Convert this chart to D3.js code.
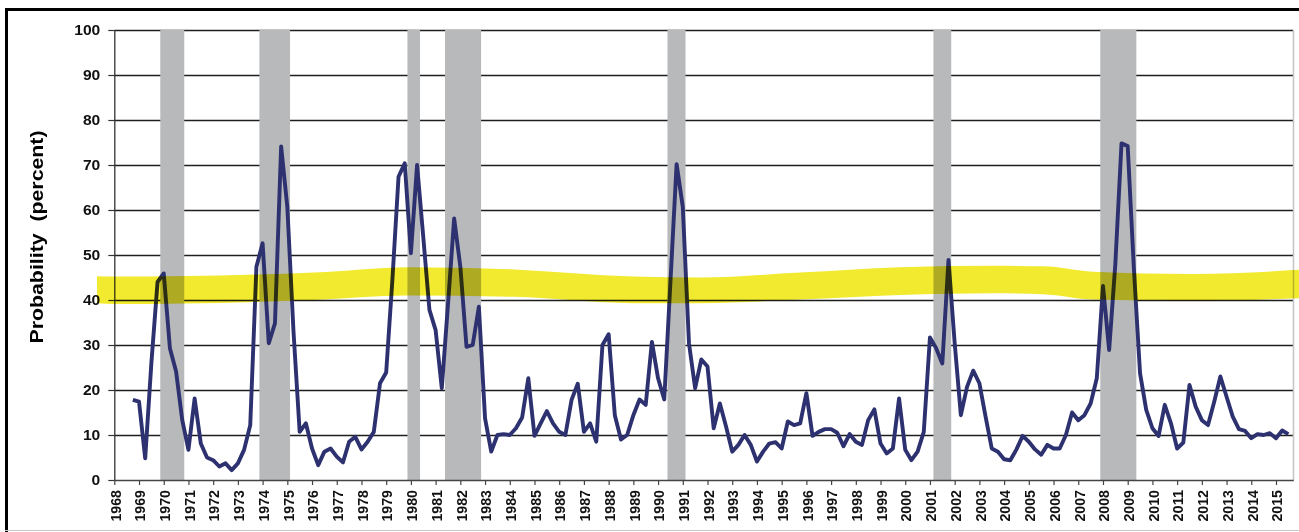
<!DOCTYPE html>
<html><head><meta charset="utf-8">
<script src="https://cdn.jsdelivr.net/npm/d3@7/dist/d3.min.js"></script>
<style>
body{margin:0;background:#fff;}
svg{display:block;font-family:"Liberation Sans",Arial,sans-serif;}
</style>
</head><body>
<svg id="chart" width="1299" height="532"></svg>
<script>
// ---- data ----
const firstQuarterYear = 1968.75; // first observation (1968 Q4), quarterly spacing
const probability = [
  17.8, 17.4, 4.8, 26.0, 44.0, 45.9, 29.3, 24.1, 13.3, 6.7,
  18.1, 8.1, 5.0, 4.4, 3.0, 3.7, 2.2, 3.7, 6.7, 12.2,
  47.4, 52.6, 30.4, 34.8, 74.1, 60.7, 33.0, 10.7, 12.6, 7.0,
  3.3, 6.3, 7.0, 5.2, 3.9, 8.5, 9.6, 6.8, 8.5, 10.7,
  21.5, 23.9, 44.4, 67.4, 70.4, 50.4, 70.0, 54.0, 37.8, 33.3,
  20.4, 39.0, 58.1, 47.4, 29.6, 30.0, 38.5, 13.7, 6.3, 10.0,
  10.2, 10.0, 11.5, 13.9, 22.6, 9.8, 12.6, 15.3, 12.6, 10.7,
  10.0, 17.8, 21.4, 10.7, 12.6, 8.5, 30.0, 32.4, 14.4, 9.0,
  10.0, 14.4, 17.9, 16.7, 30.7, 22.6, 17.9, 44.0, 70.2, 60.7,
  30.4, 20.4, 26.8, 25.2, 11.5, 17.0, 11.9, 6.3, 7.8, 10.0,
  7.8, 4.1, 6.3, 8.1, 8.4, 7.0, 13.0, 12.2, 12.6, 19.3,
  9.8, 10.7, 11.3, 11.3, 10.5, 7.5, 10.2, 8.5, 7.8, 13.3,
  15.7, 8.1, 5.9, 7.0, 18.1, 6.7, 4.4, 6.3, 10.7, 31.7,
  29.3, 25.9, 48.9, 30.4, 14.4, 20.7, 24.3, 21.5, 14.1, 7.0,
  6.3, 4.6, 4.4, 6.8, 9.8, 8.5, 6.8, 5.6, 7.8, 7.0,
  7.0, 10.0, 15.0, 13.3, 14.4, 17.0, 22.6, 43.1, 28.9, 48.0,
  74.8, 74.2, 47.0, 23.7, 15.6, 11.5, 9.8, 16.7, 12.6, 7.0,
  8.3, 21.1, 16.3, 13.3, 12.2, 17.4, 23.0, 18.5, 14.1, 11.3,
  10.9, 9.3, 10.2, 10.0, 10.4, 9.3, 11.0, 10.2
];
const recessionStart = [1969.86, 1973.87, 1979.86, 1981.38, 1990.38, 2001.14, 2007.89];
const recessionEnd   = [1970.83, 1975.11, 1980.37, 1982.84, 1991.11, 2001.86, 2009.35];
const yearTicks = [1968,1969,1970,1971,1972,1973,1974,1975,1976,1977,1978,1979,1980,1981,1982,1983,
  1984,1985,1986,1987,1988,1989,1990,1991,1992,1993,1994,1995,1996,1997,1998,1999,2000,2001,2002,
  2003,2004,2005,2006,2007,2008,2009,2010,2011,2012,2013,2014,2015];
const percentTicks = [0,10,20,30,40,50,60,70,80,90,100];
// hand-drawn highlighter band (years, top %, bottom %)
const bandYears  = [1967.30, 1968.00, 1976.09, 1979.85, 1984.18, 1988.99, 1991.70, 1995.75, 1999.79, 2003.56, 2005.58, 2007.60, 2011.65, 2015.94];
const bandTop    = [45.3, 45.2, 46.1, 47.3, 46.8, 45.2, 45.0, 46.1, 47.3, 47.6, 47.5, 46.3, 45.8, 46.7];
const bandBottom = [39.3, 39.1, 40.0, 41.0, 40.7, 39.3, 39.3, 40.1, 41.1, 41.5, 41.3, 40.1, 39.8, 40.4];
const yTitle = "Probability  (percent)";

// ---- chart ----
const svg = d3.select("#chart");
const x = d3.scaleLinear().domain([1968, 2015.7]).range([114.3, 1293.3]);
const y = d3.scaleLinear().domain([0, 100]).range([480, 30]);

const series = probability.map((v, i) => ({t: firstQuarterYear + i * 0.25, v}));

svg.append("rect").attr("width", 1299).attr("height", 532).attr("fill", "#fff");

// outer frame
svg.append("line").attr("x1", 5).attr("x2", 1299).attr("y1", 9.5).attr("y2", 9.5)
  .attr("stroke", "#000").attr("stroke-width", 3);
svg.append("line").attr("x1", 6.5).attr("x2", 6.5).attr("y1", 8).attr("y2", 532)
  .attr("stroke", "#000").attr("stroke-width", 3);
svg.append("line").attr("x1", 5).attr("x2", 1299).attr("y1", 530.5).attr("y2", 530.5)
  .attr("stroke", "#c8c8c8").attr("stroke-width", 1);

// gridlines
svg.append("g").selectAll("line").data(percentTicks.filter(d => d > 0)).join("line")
  .attr("x1", x.range()[0]).attr("x2", x.range()[1])
  .attr("y1", d => Math.round(y(d)) + 0.5).attr("y2", d => Math.round(y(d)) + 0.5)
  .attr("stroke", "#1e1e1e").attr("stroke-width", 1.3);

// right edge of plot area
svg.append("line").attr("x1", 1293.5).attr("x2", 1293.5).attr("y1", 30).attr("y2", 480)
  .attr("stroke", "#c4c4c4").attr("stroke-width", 1.5);

// recession shading
svg.append("g").selectAll("rect").data(recessionStart.map((s, i) => [s, recessionEnd[i]])).join("rect")
  .attr("x", d => x(d[0])).attr("width", d => x(d[1]) - x(d[0]))
  .attr("y", y(100)).attr("height", y(0) - y(100))
  .attr("fill", "#b8b9bb");

// x axis
const xAxis = svg.append("g").attr("transform", `translate(0,${y(0)})`)
  .call(d3.axisBottom(x).tickValues(yearTicks).tickFormat(d3.format("d")).tickSize(5).tickSizeOuter(0));
xAxis.select(".domain").attr("stroke", "#444").attr("stroke-width", 1.5);
xAxis.selectAll(".tick line").attr("stroke", "#444").attr("stroke-width", 1.2);
xAxis.selectAll(".tick text")
  .attr("transform", "rotate(-90)")
  .attr("x", -10).attr("y", 0).attr("dy", "0.37em")
  .attr("text-anchor", "end")
  .attr("fill", "#111").attr("font-size", 15.5).attr("font-weight", "bold")
  .attr("textLength", 31.5).attr("lengthAdjust", "spacingAndGlyphs")
  .attr("font-family", "Liberation Sans, Arial, sans-serif");

// y axis
const yAxis = svg.append("g").attr("transform", `translate(${x.range()[0]},0)`)
  .call(d3.axisLeft(y).tickValues(percentTicks).tickSize(6).tickPadding(8).tickSizeOuter(0));
yAxis.select(".domain").attr("stroke", "#333").attr("stroke-width", 1.3);
yAxis.selectAll(".tick line").attr("stroke", "#333").attr("stroke-width", 1.2);
yAxis.selectAll(".tick text")
  .attr("fill", "#111").attr("font-size", 14.5).attr("font-weight", "bold")
  .attr("textLength", d => String(d).length * 8.7).attr("lengthAdjust", "spacingAndGlyphs")
  .attr("font-family", "Liberation Sans, Arial, sans-serif");

// data line
svg.append("path").datum(series)
  .attr("d", d3.line().x(d => x(d.t)).y(d => y(d.v)))
  .attr("fill", "none").attr("stroke", "#2d3170").attr("stroke-width", 3.9)
  .attr("stroke-linejoin", "round");

// highlighter band
const band = bandYears.map((t, i) => ({t, top: bandTop[i], bot: bandBottom[i]}));
svg.append("path").datum(band)
  .attr("d", d3.area().x(d => x(d.t)).y0(d => y(d.bot)).y1(d => y(d.top)).curve(d3.curveMonotoneX))
  .attr("fill", "#f1ea2e").style("mix-blend-mode", "multiply");

// y title
svg.append("text")
  .attr("transform", `translate(43,237) rotate(-90)`)
  .attr("text-anchor", "middle")
  .attr("font-size", 18).attr("font-weight", "bold").attr("fill", "#000")
  .attr("textLength", 213).attr("lengthAdjust", "spacingAndGlyphs")
  .style("white-space", "pre")
  .text(yTitle);
</script>
</body></html>
